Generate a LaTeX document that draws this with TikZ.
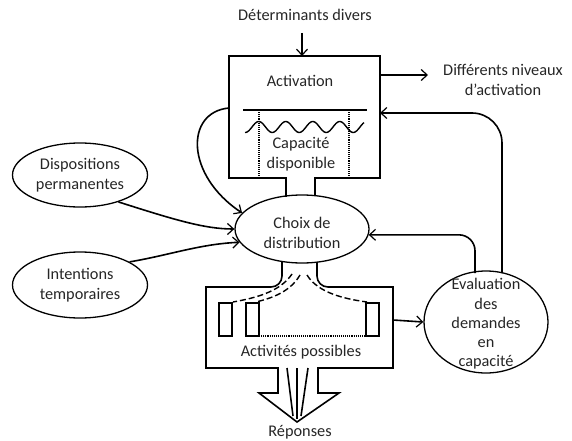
\documentclass[tikz,border=0pt]{standalone}
\usepackage{fontspec}
\setmainfont{Carlito}
\usetikzlibrary{arrows.meta,shapes.geometric}
\begin{document}
\begin{tikzpicture}[x=1pt,y=-1pt,
  every node/.style={font=\fontsize{16.3}{19.5}\selectfont, text=black!85, align=center},
  ln/.style={line width=1.6pt},
  arr/.style={ln,-{Straight Barb[length=6pt,width=11pt,line width=1.2pt]}},
  oval/.style={draw,ellipse,line width=1.3pt,inner sep=0pt}]
\useasboundingbox (0,0) rectangle (572,441);
% texts
\node (det) at (305,15) {Déterminants divers};
\node (niv) at (503,80) {Différents niveaux\\d’activation};
\node (act) at (300,81) {Activation};
\node (cap) at (301,154) {Capacité\\disponible};
\node (poss) at (301,352) {Activités possibles};
\node (rep) at (300,432) {Réponses};
% ellipses
\node[oval,minimum width=134pt,minimum height=68pt] (choix) at (302,229) {};
\node at (302,233) {Choix de\\distribution};
\node[oval,minimum width=135pt,minimum height=64pt] (disp) at (80,175) {Dispositions\\permanentes};
\node[oval,minimum width=135pt,minimum height=66pt] (intent) at (80,285) {Intentions\\temporaires};
\node[oval,minimum width=124pt,minimum height=102pt] (eval) at (486,322) {};
\node[font=\fontsize{16.3}{19.3}\selectfont] at (486,324) {Evaluation\\des\\demandes\\en\\capacité};
% activation box with neck
\draw[ln] (286,197) -- (286,178) -- (229,178) -- (229,56) -- (380,56) -- (380,178) -- (315,178) -- (315,196);
\coordinate (atop) at (302,56);
\coordinate (dtop) at (302,33);
\draw[arr] (dtop) -- (atop);
\draw[ln] (243,110) -- (367,110);
\draw[line width=1.4pt] plot[domain=0:119,samples=120,smooth] ({245+\x},{127-5.5*sin((\x-7)*13.3333)});
\draw[line width=1.1pt,densely dotted] (259,110) -- (259,178);
\draw[line width=1.1pt,densely dotted] (349,110) -- (349,178);
% output arrow
\coordinate (aR) at (380,75);
\coordinate (aRe) at (428,75);
\draw[arr] (aR) -- (aRe);
% activites box with neck and big arrow
\draw[ln] (282,261) -- (282,276) to[out=-90,in=0] (271,287) -- (206,287) -- (206,368) -- (278,368) -- (278,393) -- (259,393) -- (297,422) -- (339,393) -- (318,393) -- (318,368) -- (393,368) -- (393,287) -- (328,287) to[out=180,in=-90] (317,276) -- (317,262);
\draw[ln] (287,368) -- (293,416);
\draw[ln] (297,368) -- (297,419);
\draw[ln] (308,368) -- (301,416);
% rectangles
\draw[ln] (219,303) rectangle (232,336);
\draw[ln] (246,303) rectangle (259,336);
\draw[ln] (366,303) rectangle (379,336);
\draw[line width=1.1pt,densely dotted] (259,336) -- (366,336);
% dashed curves
\draw[line width=1.4pt,dash pattern=on 6pt off 3pt] (292,274) .. controls (280,292) and (255,298) .. (233,302);
\draw[line width=1.4pt,dash pattern=on 6pt off 3pt] (300,275) .. controls (290,292) and (272,298) .. (256,302);
\draw[line width=1.4pt,dash pattern=on 6pt off 3pt] (307,275) .. controls (318,293) and (345,299) .. (367,302);
% arrows into choix
\coordinate (aL) at (229,108);
\draw[arr] (aL) .. controls (185,112) and (185,175) .. (choix.165);
\draw[arr] (disp.-35) .. controls (175,220) and (205,229) .. (choix.west);
\draw[arr] (intent.25) .. controls (170,255) and (200,244) .. (choix.192);
% evaluation feedback
\coordinate (pR) at (393,320);
\draw[arr] (pR) -- (eval.west);
\coordinate (e1) at (502,273);
\coordinate (aIn) at (380,113);
\draw[arr,rounded corners=30pt] (e1) |- (aIn);
\coordinate (e2) at (475,273);
\draw[arr,rounded corners=16pt] (e2) |- (choix.-5);
\end{tikzpicture}
\end{document}
